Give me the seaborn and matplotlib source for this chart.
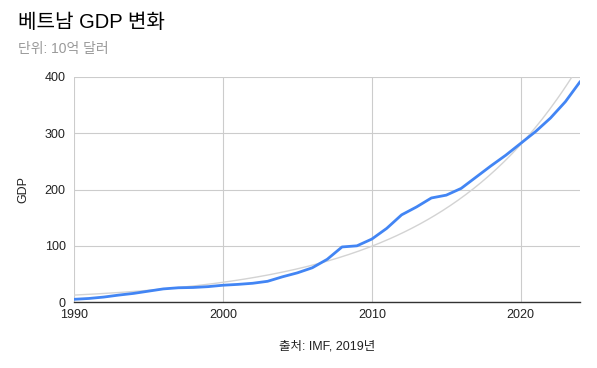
import numpy as np
import pandas as pd
import matplotlib
matplotlib.use("Agg")
import matplotlib.pyplot as plt
import seaborn as sns

# --- data (billions USD) ---
years = list(range(1990, 2025))
gdp = [5.0, 6.5, 9.0, 12.5, 15.5, 19.5, 23.5, 25.5, 26.0, 27.5,
       30.0, 31.5, 33.5, 37.0, 45.0, 52.0, 61.0, 76.0, 98.0, 100.0,
       112.0, 131.0, 155.0, 169.0, 185.0, 190.0, 202.0, 222.0, 242.0, 261.0,
       282.0, 303.0, 327.0, 356.0, 392.0]

# exponential trendline as drawn: value at its start and at 2020
trend_years = [1990, 2020]
trend_vals = [12.5, 280.0]

title = "베트남 GDP 변화"
subtitle = "단위: 10억 달러"
source = "출처: IMF, 2019년"

df = pd.DataFrame({"year": years, "gdp": gdp})

# exponential curve through the two trend values
rate = np.log(trend_vals[1] / trend_vals[0]) / (trend_years[1] - trend_years[0])
trend_x = np.linspace(1990, 2024, 200)
trend = pd.DataFrame({"year": trend_x,
                      "gdp": trend_vals[0] * np.exp(rate * (trend_x - trend_years[0]))})

sns.set_style("white")
plt.rcParams["font.family"] = ["Liberation Sans", "Noto Sans CJK KR", "DejaVu Sans"]

fig = plt.figure(figsize=(5.97, 3.68), dpi=100)
ax = fig.add_axes([0.124, 0.179, 0.848, 0.612])

sns.lineplot(data=trend, x="year", y="gdp", ax=ax, color="#d3d3d3", linewidth=1.0)
sns.lineplot(data=df, x="year", y="gdp", ax=ax, color="#4285f4", linewidth=2.0)

ax.set_xlim(1990, 2024)
ax.set_ylim(0, 400)
ax.set_xticks([1990, 2000, 2010, 2020])
ax.set_yticks([0, 100, 200, 300, 400])
ax.grid(True, color="#cccccc", linewidth=0.8)
ax.set_axisbelow(True)
for side in ["top", "right", "left"]:
    ax.spines[side].set_visible(False)
ax.spines["bottom"].set_color("#333333")
ax.spines["bottom"].set_linewidth(1.0)
ax.tick_params(axis="x", length=0, labelsize=9, colors="#222222", pad=5)
ax.tick_params(axis="y", length=0, labelsize=9, colors="#222222", pad=6)

ax.set_ylabel("GDP", fontsize=9, color="#222222", labelpad=11)
ax.set_xlabel(source, fontsize=9, color="#222222", labelpad=14)

fig.text(0.030, 0.94, title, fontsize=14.5, color="#000000", va="center")
fig.text(0.030, 0.868, subtitle, fontsize=10, color="#999999", va="center")

fig.savefig("out.png", dpi=100)
